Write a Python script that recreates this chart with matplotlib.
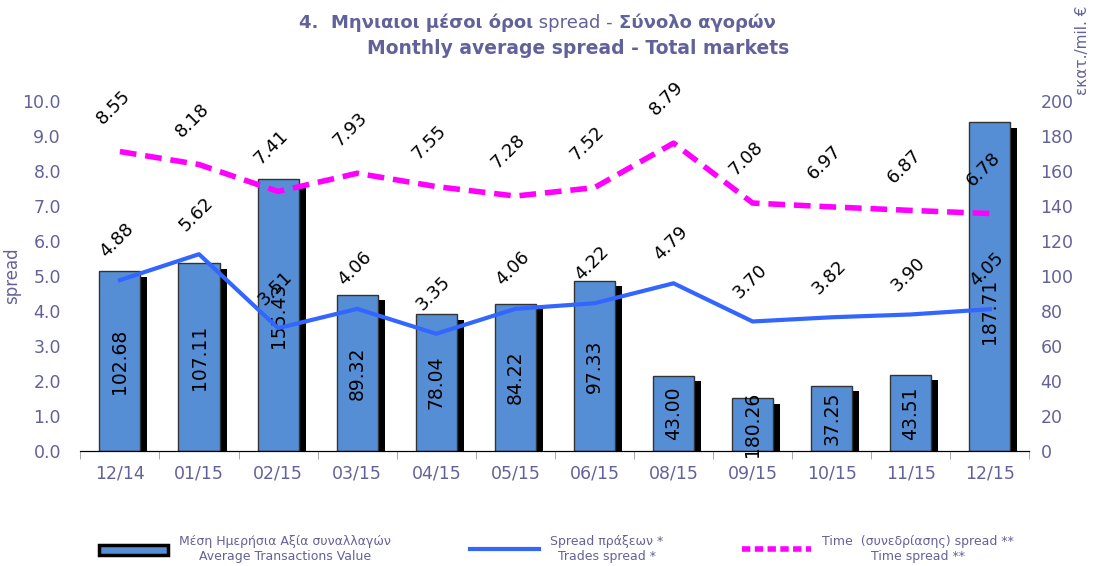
import matplotlib.pyplot as plt
import matplotlib.patheffects as pe
from matplotlib.lines import Line2D
from matplotlib.patches import Patch
import numpy as np

# data
months = ['12/14', '01/15', '02/15', '03/15', '04/15', '05/15',
          '06/15', '08/15', '09/15', '10/15', '11/15', '12/15']
avg_value = [102.68, 107.11, 155.43, 89.32, 78.04, 84.22,
             97.33, 43.00, 30.26, 37.25, 43.51, 187.71]
value_labels = ['102.68', '107.11', '155.43', '89.32', '78.04', '84.22',
                '97.33', '43.00', '180.26', '37.25', '43.51', '187.71']
trades_spread = [4.88, 5.62, 3.51, 4.06, 3.35, 4.06,
                 4.22, 4.79, 3.70, 3.82, 3.90, 4.05]
time_spread = [8.55, 8.18, 7.41, 7.93, 7.55, 7.28,
               7.52, 8.79, 7.08, 6.97, 6.87, 6.78]

txt_col = '#62629a'
bar_col = '#558ed5'
plt.rcParams['font.family'] = ['DejaVu Sans']

fig = plt.figure(figsize=(11.01, 5.66), dpi=100)
ax = fig.add_axes([0.073, 0.203, 0.862, 0.619])   # bars, right scale
ax2 = ax.twinx()                                  # spreads, left scale

x = np.arange(len(months))

# bars with black drop shadow
bars = ax.bar(x, avg_value, width=0.52, color=bar_col, edgecolor='#333333',
              linewidth=1.0, zorder=2)
for b in bars:
    b.set_path_effects([pe.SimplePatchShadow(offset=(5, -4), shadow_rgbFace='black', alpha=1),
                        pe.Normal()])
for xi, h, lab in zip(x, avg_value, value_labels):
    ax.text(xi, min(h / 2, 80), lab, rotation=90, ha='center', va='center',
            fontsize=13.5, color='black', zorder=3)

ax.set_ylim(0, 200)
ax.set_xlim(-0.5, len(months) - 0.5)
ax.yaxis.tick_right()
ax.set_yticks(np.arange(0, 201, 20))
ax.tick_params(axis='y', length=0, labelsize=12.5, labelcolor=txt_col, pad=8)

# lines
ax2.plot(x, trades_spread, color='#3366ff', lw=3, zorder=4)
ax2.plot(x, time_spread, color='#ff00ff', lw=4, dashes=(3, 1.6), zorder=4)
for xi, v in zip(x, trades_spread):
    ax2.annotate(f'{v:.2f}', (xi, v), xytext=(-2, 29), textcoords='offset points',
                 rotation=45, ha='center', va='center', fontsize=13)
for xi, v in zip(x, time_spread):
    ax2.annotate(f'{v:.2f}', (xi, v), xytext=(-5, 32), textcoords='offset points',
                 rotation=45, ha='center', va='center', fontsize=13)
ax2.set_ylim(0, 10)
ax2.yaxis.tick_left()
ax2.yaxis.set_label_position('left')
ax2.set_yticks(np.arange(0, 10.01, 1.0))
ax2.set_yticklabels([f'{v:.1f}' for v in np.arange(0, 10.01, 1.0)])
ax2.tick_params(axis='y', length=0, labelsize=12.5, labelcolor=txt_col, pad=14)
ax2.set_ylabel('spread', color=txt_col, fontsize=12, labelpad=1)

for a in (ax, ax2):
    for s in ('top', 'left', 'right'):
        a.spines[s].set_visible(False)
    a.spines['bottom'].set_color('black')

ax.set_xticks(x)
ax.set_xticklabels(months)
ax.set_xticks(np.arange(-0.5, len(months)), minor=True)
ax.tick_params(axis='x', which='major', length=0, labelsize=12.5, labelcolor=txt_col, pad=10)
ax.tick_params(axis='x', which='minor', length=6, color='#999999')

fig.text(0.99, 0.99, 'εκατ./mil. €', rotation=90, ha='right', va='top',
         fontsize=11, color=txt_col)

# title, mixed weight: each piece starts where the previous one ends
prev = fig.text(0.272, 0.95, '4.  ', fontsize=13, color=txt_col,
                fontweight='bold', va='baseline')
for s, w in [('Μηνιαιοι μέσοι όροι', 'bold'), (' spread - ', 'normal'),
             ('Σύνολο αγορών', 'bold')]:
    prev = ax.annotate(s, xy=(1, 0), xycoords=prev, va='bottom', ha='left',
                       fontsize=13, color=txt_col, fontweight=w,
                       annotation_clip=False)
fig.text(0.525, 0.905, 'Monthly average spread - Total markets', ha='center', va='baseline',
         fontsize=13.5, color=txt_col, fontweight='bold')

# legend
handles = [Patch(facecolor=bar_col, edgecolor='black', linewidth=2.5),
           Line2D([], [], color='#3366ff', lw=3),
           Line2D([], [], color='#ff00ff', lw=4, dashes=(1.5, 0.8))]
labels = ['Μέση Ημερήσια Αξία συναλλαγών\nAverage Transactions Value',
          'Spread πράξεων *\nTrades spread *',
          'Time  (συνεδρίασης) spread **\nTime spread **']
leg = fig.legend(handles, labels, loc='lower left', bbox_to_anchor=(0.08, -0.015), ncol=3,
                 frameon=False, fontsize=9, handlelength=5.5, handleheight=0.9,
                 handletextpad=0.9, columnspacing=6.3)
for t in leg.get_texts():
    t.set_color(txt_col)
    t.set_multialignment('center')

fig.savefig('out.png', dpi=100)
